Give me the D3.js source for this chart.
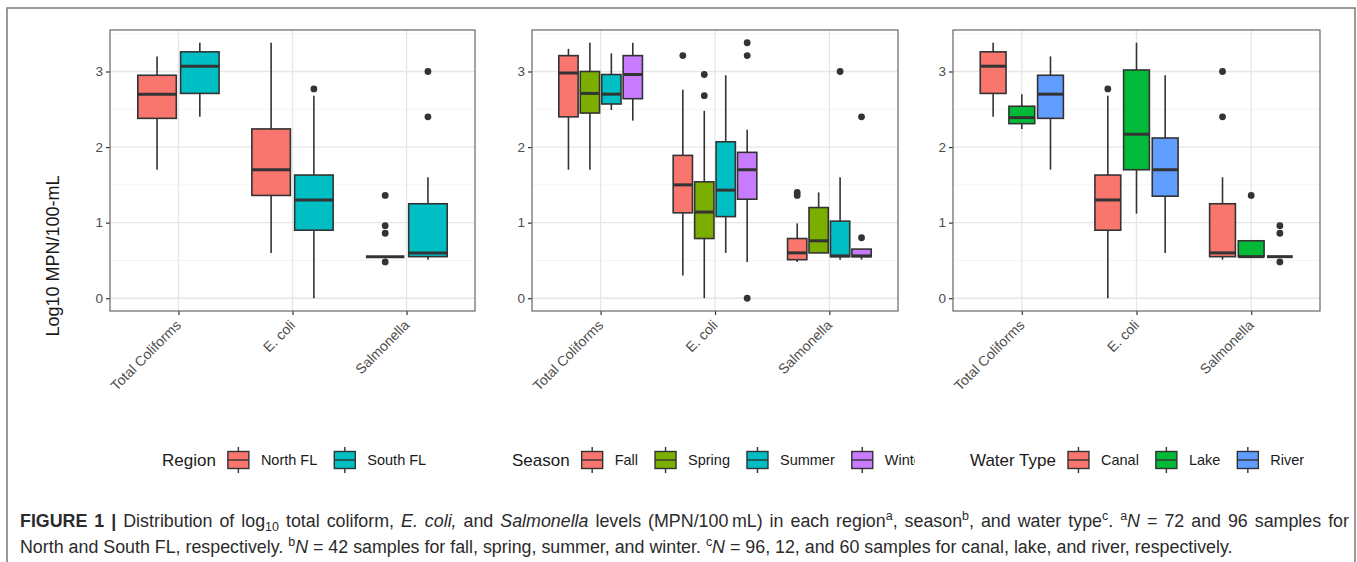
<!DOCTYPE html>
<html>
<head>
<meta charset="utf-8">
<script src="https://cdn.jsdelivr.net/npm/d3@7"></script>
<style>
  body { margin: 0; background: #fff; }
  svg { display: block; }
  text { font-family: "Liberation Sans", Arial, Helvetica, sans-serif; }
</style>
</head>
<body>
<div id="chart"></div>
<script>
// Measures shown on every panel's x axis
const measures = ["Total Coliforms", "E. coli", "Salmonella"];
const yTicks = [0, 1, 2, 3];

// Panel 1: region. Each row: [measure, group, lowWhisker, q1, median, q3, highWhisker]
const regionGroups = ["North FL", "South FL"];
const regionStats = [
    ["Total Coliforms", "North FL", 1.70, 2.38, 2.70, 2.95, 3.20],
    ["Total Coliforms", "South FL", 2.40, 2.71, 3.07, 3.26, 3.38],
    ["E. coli", "North FL", 0.60, 1.36, 1.70, 2.24, 3.38],
    ["E. coli", "South FL", 0.00, 0.90, 1.30, 1.63, 2.68],
    ["Salmonella", "North FL", 0.55, 0.55, 0.55, 0.55, 0.55],
    ["Salmonella", "South FL", 0.51, 0.55, 0.60, 1.25, 1.60]
];
const regionOutliers = [
    ["E. coli", "South FL", 2.77],
    ["Salmonella", "North FL", 1.36],
    ["Salmonella", "North FL", 0.96],
    ["Salmonella", "North FL", 0.86],
    ["Salmonella", "North FL", 0.48],
    ["Salmonella", "South FL", 3.00],
    ["Salmonella", "South FL", 2.40]
];

// Panel 2: season
const seasonGroups = ["Fall", "Spring", "Summer", "Winter"];
const seasonStats = [
    ["Total Coliforms", "Fall", 1.70, 2.40, 2.98, 3.21, 3.30],
    ["Total Coliforms", "Spring", 1.70, 2.45, 2.71, 3.00, 3.38],
    ["Total Coliforms", "Summer", 2.49, 2.57, 2.70, 2.96, 3.24],
    ["Total Coliforms", "Winter", 2.35, 2.64, 2.96, 3.21, 3.38],
    ["E. coli", "Fall", 0.30, 1.13, 1.50, 1.89, 2.76],
    ["E. coli", "Spring", 0.00, 0.79, 1.14, 1.54, 2.48],
    ["E. coli", "Summer", 0.60, 1.08, 1.43, 2.07, 2.95],
    ["E. coli", "Winter", 0.48, 1.31, 1.70, 1.93, 2.23],
    ["Salmonella", "Fall", 0.48, 0.51, 0.60, 0.79, 0.99],
    ["Salmonella", "Spring", 0.60, 0.60, 0.76, 1.20, 1.40],
    ["Salmonella", "Summer", 0.51, 0.55, 0.56, 1.02, 1.60],
    ["Salmonella", "Winter", 0.51, 0.55, 0.56, 0.65, 0.65]
];
const seasonOutliers = [
    ["E. coli", "Fall", 3.21],
    ["E. coli", "Spring", 2.96],
    ["E. coli", "Spring", 2.68],
    ["E. coli", "Winter", 3.38],
    ["E. coli", "Winter", 3.21],
    ["E. coli", "Winter", 0.00],
    ["Salmonella", "Fall", 1.40],
    ["Salmonella", "Fall", 1.36],
    ["Salmonella", "Summer", 3.00],
    ["Salmonella", "Winter", 2.40],
    ["Salmonella", "Winter", 0.80]
];

// Panel 3: water type
const waterGroups = ["Canal", "Lake", "River"];
const waterStats = [
    ["Total Coliforms", "Canal", 2.40, 2.71, 3.07, 3.26, 3.38],
    ["Total Coliforms", "Lake", 2.24, 2.31, 2.39, 2.54, 2.70],
    ["Total Coliforms", "River", 1.70, 2.38, 2.70, 2.95, 3.20],
    ["E. coli", "Canal", 0.00, 0.90, 1.30, 1.63, 2.68],
    ["E. coli", "Lake", 1.12, 1.70, 2.17, 3.02, 3.38],
    ["E. coli", "River", 0.60, 1.35, 1.70, 2.12, 2.95],
    ["Salmonella", "Canal", 0.51, 0.55, 0.60, 1.25, 1.60],
    ["Salmonella", "Lake", 0.55, 0.55, 0.55, 0.76, 0.76],
    ["Salmonella", "River", 0.55, 0.55, 0.55, 0.55, 0.55]
];
const waterOutliers = [
    ["E. coli", "Canal", 2.77],
    ["Salmonella", "Canal", 3.00],
    ["Salmonella", "Canal", 2.40],
    ["Salmonella", "Lake", 1.36],
    ["Salmonella", "River", 0.96],
    ["Salmonella", "River", 0.86],
    ["Salmonella", "River", 0.48]
];

const regionColors = ["#F8766D", "#00BFC4"];
const seasonColors = ["#F8766D", "#7CAE00", "#00BFC4", "#C77CFF"];
const waterColors = ["#F8766D", "#00BA38", "#619CFF"];

const W = 1357, H = 562;
const svg = d3.select("#chart").append("svg")
    .attr("width", W)
    .attr("height", H);

// outer frame of the figure
svg.append("path")
    .attr("d", "M7,562V8H1355V562")
    .attr("fill", "none")
    .attr("stroke", "#7a7a7a")
    .attr("stroke-width", 1.5);

const panelTop = 30, panelBottom = 311;
const y = d3.scaleLinear().domain([-0.169, 3.549]).range([panelBottom, panelTop]);

const panels = [
    { groups: regionGroups, colors: regionColors, stats: regionStats, outliers: regionOutliers,
      x0: 110, x1: 475, title: "Region", legendX: 162, clip: null },
    { groups: seasonGroups, colors: seasonColors, stats: seasonStats, outliers: seasonOutliers,
      x0: 532, x1: 898, title: "Season", legendX: 512, clip: 915 },
    { groups: waterGroups, colors: waterColors, stats: waterStats, outliers: waterOutliers,
      x0: 953, x1: 1320, title: "Water Type", legendX: 970, clip: null }
];

const dark = "#333333";

panels.forEach(function (p, pi) {
    const g = svg.append("g");

    const x = d3.scalePoint().domain(measures).range([p.x0, p.x1]).padding(0.6);
    const step = x.step();
    const dodge = d3.scaleBand().domain(p.groups).range([-0.375 * step, 0.375 * step]);
    const boxW = dodge.bandwidth() * 0.9;
    const color = d3.scaleOrdinal().domain(p.groups).range(p.colors);

    // grid
    const minor = [0.5, 1.5, 2.5, 3.5];
    g.selectAll(".minor").data(minor).enter().append("line")
        .attr("x1", p.x0).attr("x2", p.x1)
        .attr("y1", d => y(d)).attr("y2", d => y(d))
        .attr("stroke", "#f2f2f2").attr("stroke-width", 0.8);
    g.selectAll(".majorY").data(yTicks).enter().append("line")
        .attr("x1", p.x0).attr("x2", p.x1)
        .attr("y1", d => y(d)).attr("y2", d => y(d))
        .attr("stroke", "#e6e6e6").attr("stroke-width", 1.3);
    g.selectAll(".majorX").data(measures).enter().append("line")
        .attr("x1", d => x(d)).attr("x2", d => x(d))
        .attr("y1", panelTop).attr("y2", panelBottom)
        .attr("stroke", "#e6e6e6").attr("stroke-width", 1.3);

    // axes
    const yAxis = g.append("g")
        .attr("transform", "translate(" + p.x0 + ",0)")
        .call(d3.axisLeft(y).tickValues(yTicks).tickSize(4).tickPadding(3).tickFormat(d3.format("d")));
    yAxis.select(".domain").remove();
    yAxis.selectAll("line").attr("stroke", dark).attr("stroke-width", 1.2);
    yAxis.selectAll("text").attr("font-size", 13.5).attr("fill", "#4d4d4d")
        .style("font-family", "'Liberation Sans', Arial, sans-serif");

    const xAxis = g.append("g")
        .attr("transform", "translate(0," + panelBottom + ")")
        .call(d3.axisBottom(x).tickSize(4).tickPadding(0));
    xAxis.select(".domain").remove();
    xAxis.selectAll("line").attr("stroke", dark).attr("stroke-width", 1.2);
    xAxis.selectAll("text")
        .attr("font-size", 14).attr("fill", "#4d4d4d")
        .style("font-family", "'Liberation Sans', Arial, sans-serif")
        .attr("text-anchor", "end")
        .attr("y", 0).attr("dy", 0)
        .attr("transform", "translate(-4,8) rotate(-45) translate(0,10)");

    // boxes
    const boxes = g.selectAll(".box").data(p.stats).enter().append("g")
        .attr("transform", d => "translate(" + (x(d[0]) + dodge(d[1]) + dodge.bandwidth() / 2) + ",0)");
    boxes.append("line")
        .attr("y1", d => y(d[2])).attr("y2", d => y(d[3]))
        .attr("stroke", dark).attr("stroke-width", 1.6);
    boxes.append("line")
        .attr("y1", d => y(d[5])).attr("y2", d => y(d[6]))
        .attr("stroke", dark).attr("stroke-width", 1.6);
    boxes.append("rect")
        .attr("x", -boxW / 2).attr("width", boxW)
        .attr("y", d => y(d[5])).attr("height", d => y(d[3]) - y(d[5]))
        .attr("fill", d => color(d[1]))
        .attr("stroke", dark).attr("stroke-width", 1.6);
    boxes.append("line")
        .attr("x1", -boxW / 2).attr("x2", boxW / 2)
        .attr("y1", d => y(d[4])).attr("y2", d => y(d[4]))
        .attr("stroke", dark).attr("stroke-width", 3);

    g.selectAll(".out").data(p.outliers).enter().append("circle")
        .attr("cx", d => x(d[0]) + dodge(d[1]) + dodge.bandwidth() / 2)
        .attr("cy", d => y(d[2]))
        .attr("r", 3.4)
        .attr("fill", dark);

    // panel border
    g.append("rect")
        .attr("x", p.x0).attr("y", panelTop)
        .attr("width", p.x1 - p.x0).attr("height", panelBottom - panelTop)
        .attr("fill", "none").attr("stroke", "#666").attr("stroke-width", 1.2);

    // legend
    const ly = 460;
    let lg = svg.append("g");
    if (p.clip) {
        svg.append("clipPath").attr("id", "clip" + pi)
            .append("rect").attr("x", 0).attr("y", 0).attr("width", p.clip).attr("height", H);
        lg.attr("clip-path", "url(#clip" + pi + ")");
    }
    const title = lg.append("text")
        .attr("x", p.legendX).attr("y", ly + 6)
        .attr("font-size", 17).attr("fill", "#1a1a1a")
        .text(p.title);
    let cx = p.legendX + title.node().getComputedTextLength() + 12;
    p.groups.forEach(function (grp) {
        const k = lg.append("g").attr("transform", "translate(" + cx + "," + ly + ")");
        k.append("line").attr("x1", 10.5).attr("x2", 10.5).attr("y1", -13).attr("y2", 13)
            .attr("stroke", dark).attr("stroke-width", 1.4);
        k.append("rect").attr("x", 0).attr("y", -8.5).attr("width", 21).attr("height", 17)
            .attr("fill", color(grp)).attr("stroke", dark).attr("stroke-width", 1.4);
        k.append("line").attr("x1", 0).attr("x2", 21).attr("y1", 0).attr("y2", 0)
            .attr("stroke", dark).attr("stroke-width", 1.4);
        const t = lg.append("text")
            .attr("x", cx + 33).attr("y", ly + 5)
            .attr("font-size", 14.5).attr("fill", "#1a1a1a")
            .text(grp);
        cx += 33 + t.node().getComputedTextLength() + 17;
    });
});

// y axis title
svg.append("text")
    .attr("transform", "translate(59,256) rotate(-90)")
    .attr("text-anchor", "middle")
    .attr("font-size", 18).attr("fill", "#1a1a1a")
    .text("Log10 MPN/100-mL");

// caption
const capColor = "#2b2b2b";
const line1 = [
    ["FIGURE 1 | ", "b"], ["Distribution of log", ""], ["10", "sub"], [" total coliform, ", ""],
    ["E. coli,", "i"], [" and ", ""], ["Salmonella", "i"], [" levels (MPN/100\u2009mL) in each region", ""],
    ["a", "sup"], [", season", ""], ["b", "sup"], [", and water type", ""], ["c", "sup"], [". ", ""],
    ["a", "sup"], ["N", "i"], [" = 72 and 96 samples for", ""]
];
const line2 = [
    ["North and South FL, respectively. ", ""], ["b", "sup"], ["N", "i"],
    [" = 42 samples for fall, spring, summer, and winter. ", ""], ["c", "sup"], ["N", "i"],
    [" = 96, 12, and 60 samples for canal, lake, and river, respectively.", ""]
];

function caption(parts, yPos, fs) {
    const t = svg.append("text").attr("x", 20).attr("y", yPos)
        .attr("font-size", fs).attr("fill", capColor);
    let shift = 0;
    parts.forEach(function (pt) {
        const s = t.append("tspan").text(pt[0]);
        let target = 0;
        if (pt[1] === "b") s.attr("font-weight", "bold");
        if (pt[1] === "i") s.attr("font-style", "italic");
        if (pt[1] === "sup") { s.attr("font-size", fs * 0.7); target = -fs * 0.38; }
        if (pt[1] === "sub") { s.attr("font-size", fs * 0.7); target = fs * 0.25; }
        s.attr("dy", target - shift);
        shift = target;
    });
    return t;
}
// the last caption line sets the font size; the first line is justified to full width
const probe = caption(line2, 553, 15);
const fs = 15 * 1213 / probe.node().getComputedTextLength();
probe.remove();
const c1 = caption(line1, 527, fs);
const spaces = line1.map(d => d[0]).join("").split(" ").length - 1;
const extra = (1329 - c1.node().getComputedTextLength()) / spaces;
c1.style("word-spacing", extra + "px");
caption(line2, 553, fs);
</script>
</body>
</html>
